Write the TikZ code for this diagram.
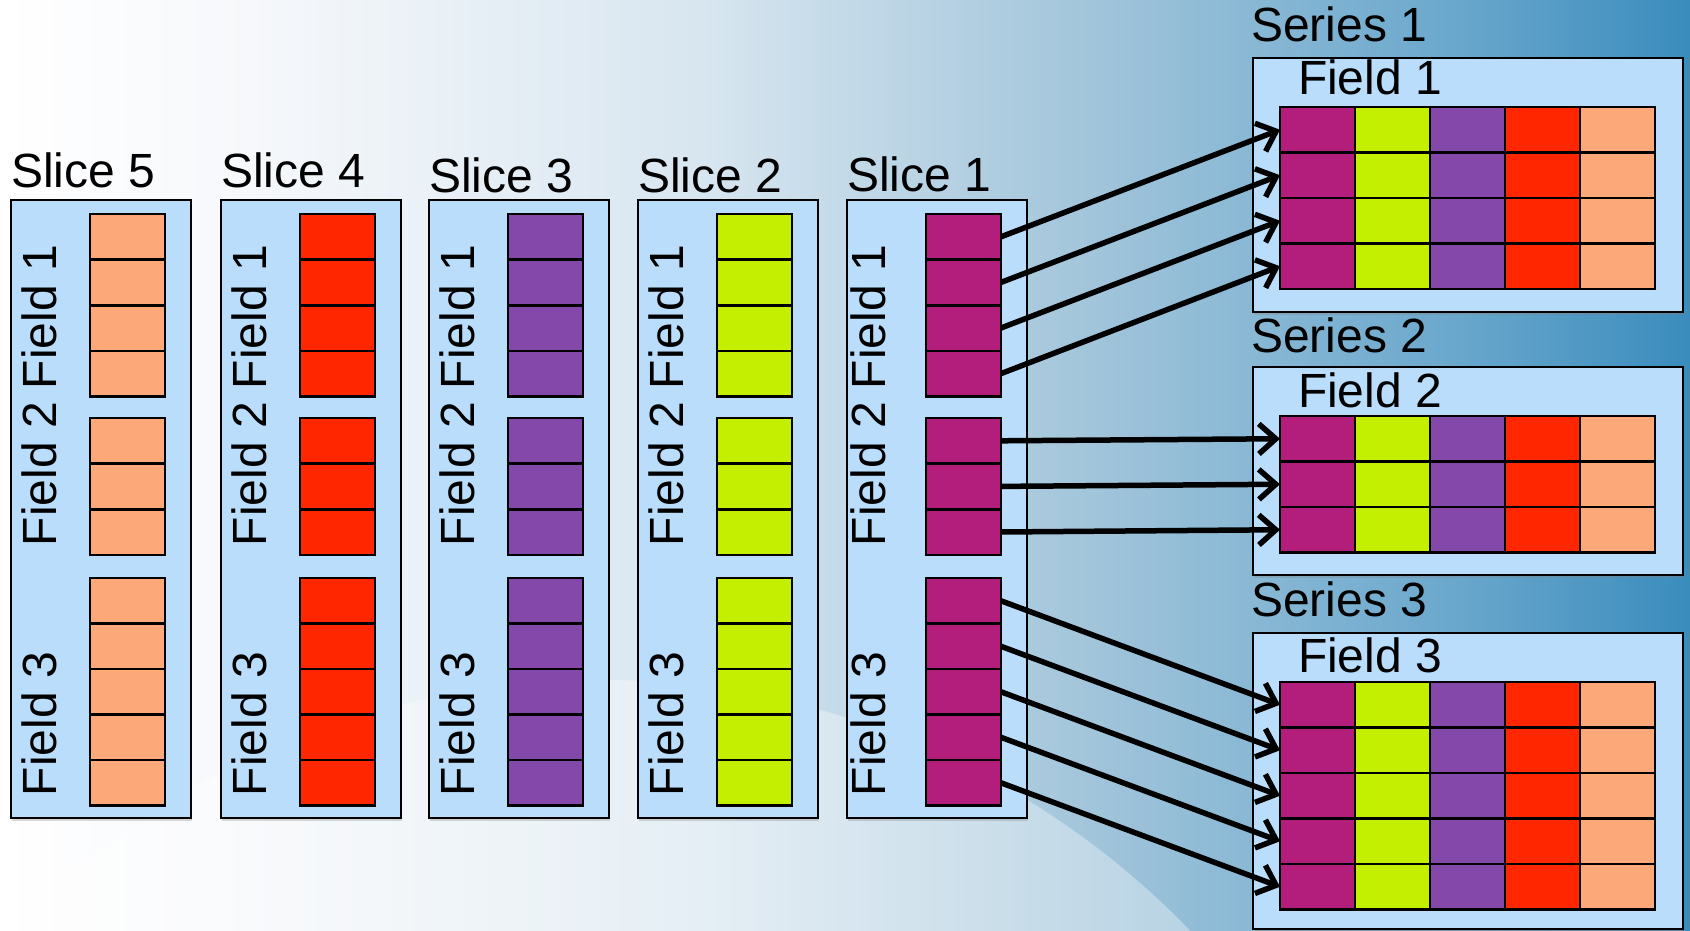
\documentclass[tikz,border=0pt]{standalone}
\usepackage{fontspec}
\setmainfont{Liberation Sans}
\usetikzlibrary{arrows.meta,shadows}
\definecolor{cA}{RGB}{179,30,124}
\definecolor{cB}{RGB}{196,240,0}
\definecolor{cC}{RGB}{132,71,170}
\definecolor{cD}{RGB}{255,38,0}
\definecolor{cE}{RGB}{253,168,120}
\definecolor{boxblue}{RGB}{185,221,251}
\definecolor{bg1}{RGB}{246,248,251}
\definecolor{bg2}{RGB}{216,230,240}
\definecolor{bg3}{RGB}{160,196,218}
\definecolor{bg4}{RGB}{107,168,205}
\definecolor{bg5}{RGB}{58,140,189}
\begin{document}
\begin{tikzpicture}[x=1pt,y=-1pt,
  lbl/.style={font=\fontsize{48}{56}\selectfont, inner sep=0pt, outer sep=0pt, text=black},
  panel/.style={draw=black, line width=2.2pt, fill=boxblue, inner sep=0pt, outer sep=0pt,
    drop shadow={shadow xshift=1pt, shadow yshift=-3pt, opacity=0.3}},
  cell/.style={draw=black, line width=2.6pt, inner sep=0pt, outer sep=0pt,
    minimum width=75pt, minimum height=45.6pt},
  arr/.style={line width=5.5pt, -{Straight Barb[length=17pt,width=30pt]}}
]
\useasboundingbox (0,0) rectangle (1690,931);
% background
\shade[left color=white, right color=bg1] (0,0) rectangle (251,931);
\shade[left color=bg1, right color=bg2] (250,0) rectangle (701,931);
\shade[left color=bg2, right color=bg3] (700,0) rectangle (1101,931);
\shade[left color=bg3, right color=bg4] (1100,0) rectangle (1451,931);
\shade[left color=bg4, right color=bg5] (1450,0) rectangle (1690,931);
\fill[white, opacity=0.35] (600,1500) circle (820);

% slices
\foreach \k/\x/\col/\by/\tx in {5/11/cE/188/45, 4/221/cD/188/45, 3/429/cC/193/45, 2/638/cB/193/45, 1/847/cA/192/38} {
  \node[panel, anchor=north west, minimum width=180pt, minimum height=618pt] (slice\k) at (\x,200) {};
  \node[lbl, anchor=base west] (slicelbl\k) at (\x,\by) {Slice \k};
  \node[lbl, rotate=90, anchor=base west] (sl\k-fl1) at (\x+\tx,389) {Field 1};
  \node[lbl, rotate=90, anchor=base west] (sl\k-fl2) at (\x+\tx,546) {Field 2};
  \node[lbl, rotate=90, anchor=base west] (sl\k-fl3) at (\x+\tx,796) {Field 3};
  \foreach \j in {1,...,4}
    \node[cell, fill=\col, anchor=north west] (sl\k-f1-\j) at (\x+79,214+\j*45.6-45.6) {};
  \foreach \j in {1,...,3}
    \node[cell, fill=\col, anchor=north west] (sl\k-f2-\j) at (\x+79,418+\j*45.6-45.6) {};
  \foreach \j in {1,...,5}
    \node[cell, fill=\col, anchor=north west] (sl\k-f3-\j) at (\x+79,578+\j*45.5-45.5) {};
}

% series
\foreach \s/\top/\bot/\rows/\gtop/\lb/\fb in {1/58/312/4/107/42/95, 2/367/575/3/416/352/407, 3/633/929/5/682/616/672} {
  \pgfmathsetmacro\hh{\bot-\top}
  \node[panel, anchor=north west, minimum width=430pt, minimum height=\hh pt] (series\s) at (1253,\top) {};
  \node[lbl, anchor=base west] (serlbl\s) at (1251,\lb) {Series \s};
  \node[lbl, anchor=base west] (serfl\s) at (1298,\fb) {Field \s};
  \foreach \r in {1,...,\rows}
    \foreach \c/\col in {1/cA,2/cB,3/cC,4/cD,5/cE}
      \node[cell, fill=\col, anchor=north west, minimum height=45.5pt] (g\s-\r-\c) at (1205+\c*75,\gtop+\r*45.5-45.5) {};
}

% arrows
\foreach \j in {1,...,4} \draw[arr] (sl1-f1-\j.east) -- (g1-\j-1.west);
\foreach \j in {1,...,3} \draw[arr] (sl1-f2-\j.east) -- (g2-\j-1.west);
\foreach \j in {1,...,5} \draw[arr] (sl1-f3-\j.east) -- (g3-\j-1.west);
\end{tikzpicture}
\end{document}
